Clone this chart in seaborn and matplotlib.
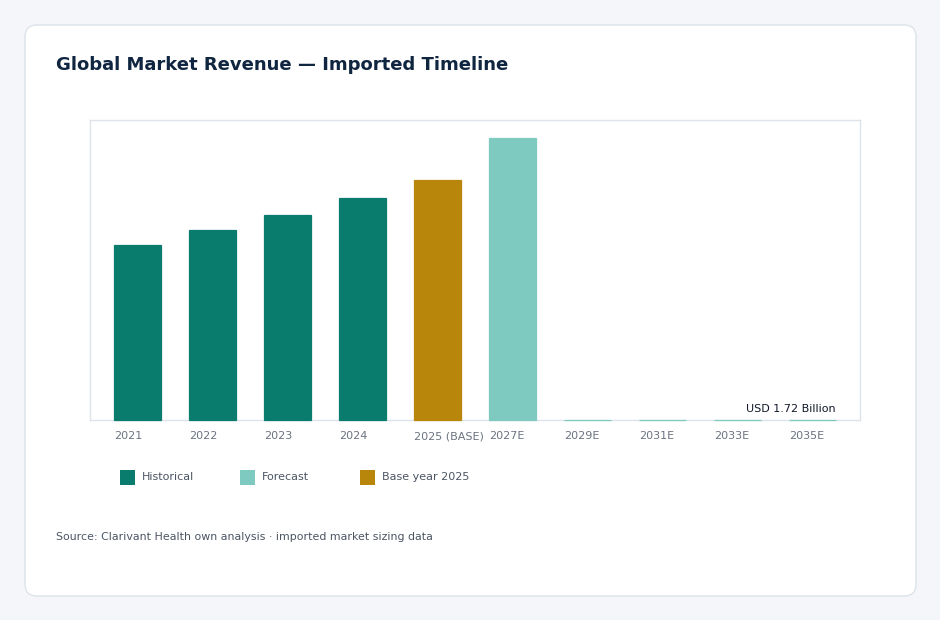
import numpy as np
import pandas as pd
import matplotlib.pyplot as plt
import seaborn as sns
from matplotlib.patches import FancyBboxPatch, Rectangle

# ---- data ----
years = ["2021", "2022", "2023", "2024", "2025 (BASE)", "2027E",
         "2029E", "2031E", "2033E", "2035E"]
revenue = [933, 1013, 1093, 1184, 1280, 1504, 1.30, 1.45, 1.58, 1.72]
kind = ["Historical"] * 4 + ["Base year 2025"] + ["Forecast"] * 5
last_label = "USD 1.72 Billion"

palette = {"Historical": "#0a7c6e", "Forecast": "#7ecac0", "Base year 2025": "#b8860b"}
legend_order = ["Historical", "Forecast", "Base year 2025"]

df = pd.DataFrame({"year": years, "revenue": revenue, "kind": kind})

sns.set_style("white")
plt.rcParams["font.family"] = ["DejaVu Sans"]

fig = plt.figure(figsize=(9.4, 6.2), dpi=100, facecolor="#f4f6f9")

# white card behind the chart
card = FancyBboxPatch((0.25, 0.24), 8.91, 5.71,
                      boxstyle="round,pad=0,rounding_size=0.12",
                      transform=fig.dpi_scale_trans,
                      facecolor="white", edgecolor="#dde3e8", linewidth=1, zorder=-10)
fig.patches.append(card)

ax = fig.add_axes([90 / 940, 200 / 620, 770 / 940, 300 / 620])
ax.set_zorder(1)
bw = 0.627
sns.barplot(data=df, x="year", y="revenue", hue="kind", palette=palette,
            order=years, dodge=False, width=bw, legend=False, ax=ax,
            linewidth=0.9, saturation=1)
# thin edge in the same colour so the near-zero bars still show up,
# and keep the bars above the frame line
for bar, k in zip(ax.patches, kind):
    bar.set_edgecolor(palette[k])
    bar.set_zorder(3)
    bar.set_clip_on(False)

ax.set_xlim(-0.633, len(years) - 1 + 0.633)
ax.set_ylim(0, 1600)
ax.set_facecolor("white")
for s in ax.spines.values():
    s.set_color("#dde3e8")
    s.set_linewidth(1)

ax.tick_params(axis="x", length=0, pad=13.7)
ax.set_xticks(np.arange(len(years)) - bw / 2)
ax.set_xticklabels(years, ha="left", fontsize=8, color="#6b7280")
for t in ax.get_xticklabels():
    t.set_verticalalignment("baseline")
ax.set_yticks([])
ax.set_xlabel("")
ax.set_ylabel("")

# value label on the last bar
ax.annotate(last_label, xy=(len(years) - 1 + bw / 2, revenue[-1]),
            xytext=(0, 4), textcoords="offset points",
            ha="right", va="bottom", fontsize=8, color="#111827")

# title & source
fig.text(56 / 940, 1 - 65 / 620, "Global Market Revenue \u2014 Imported Timeline",
         fontsize=13, fontweight="bold", color="#0f2540", va="center", ha="left")
fig.text(56 / 940, 1 - 537 / 620,
         "Source: Clarivant Health own analysis \u00b7 imported market sizing data",
         fontsize=7.9, color="#4b5563", va="center", ha="left")

# legend drawn as squares + text
for i, name in enumerate(legend_order):
    x0 = 120 + i * 120
    fig.patches.append(Rectangle((x0 / 940, 1 - 485 / 620), 15 / 940, 15 / 620,
                                 transform=fig.transFigure,
                                 facecolor=palette[name], edgecolor="none"))
    fig.text((x0 + 22) / 940, 1 - 477 / 620, name, fontsize=8,
             color="#4b5563", va="center", ha="left")

plt.savefig("out.png", dpi=100, facecolor=fig.get_facecolor())
